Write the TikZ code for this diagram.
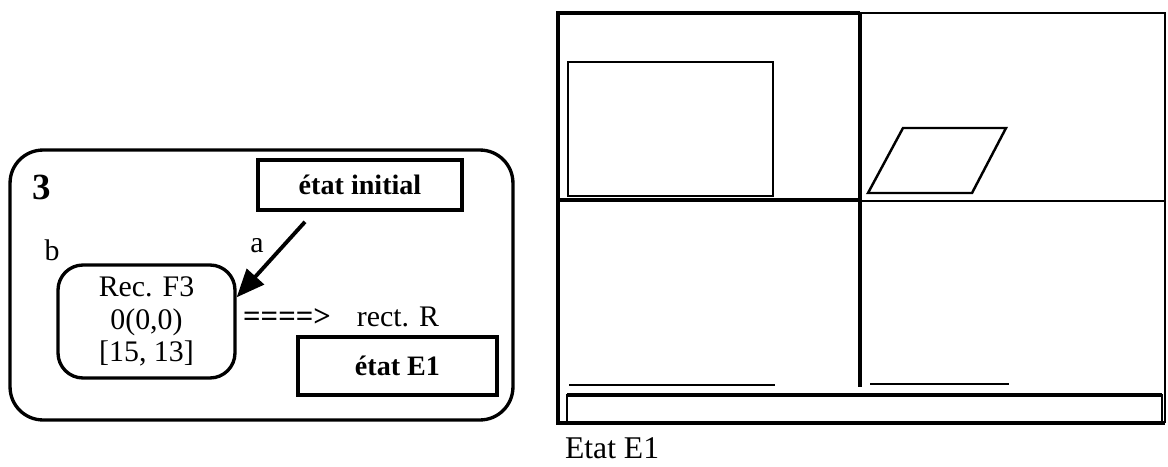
\documentclass[tikz,border=0pt]{standalone}
\usepackage{fontspec}
\setmainfont{Liberation Serif}
\usetikzlibrary{arrows.meta,calc}
\tikzstyle{panel} = [rectangle, rounded corners=0.66cm, minimum width=10.06cm, minimum height=5.4cm, draw=black, line width=1.9pt]
\tikzstyle{etat} = [rectangle, minimum height=1cm, text centered, draw=black, line width=2.1pt, font=\fontsize{16}{19}\selectfont\bfseries]
\tikzstyle{recbox} = [rectangle, rounded corners=0.5cm, minimum width=3.54cm, minimum height=2.26cm, align=center, draw=black, line width=1.9pt, font=\fontsize{17}{18.5}\selectfont]
\tikzstyle{lbl} = [inner sep=1pt, font=\fontsize{17}{20}\selectfont]
\tikzstyle{arrow} = [line width=2.2pt,-{Triangle[length=16pt,width=13pt]}]
\tikzstyle{heavy} = [line width=2.4pt]
\tikzstyle{light} = [line width=1.4pt]
\begin{document}
\begin{tikzpicture}[x=0.02cm, y=-0.02cm]
      \useasboundingbox (0,0) rectangle (1168,466);
      % left: the graph of states
      \node (frame3)[panel] at (261.5,285) {};
      \node (num)[lbl, font=\fontsize{21}{24}\selectfont\bfseries] at (42,187) {3};
      \node (b)[lbl] at (52,250) {b};
      \node (a)[lbl] at (257,246) {a};
      \node (init)[etat, minimum width=4.08cm] at (360,185) {état initial};
      \node (rec)[recbox] at (146.5,321.5) {Rec. F3\\0(0,0)\\{[15, 13]}};
      \node (impl)[lbl, font=\fontsize{17.5}{20}\selectfont\bfseries] at (287,318) {====>};
      \node (rectR)[lbl] at (398,317) {rect. R};
      \node (e1)[etat, minimum width=3.98cm, minimum height=1.16cm] at (397.5,366) {état E1};
      \draw [arrow] ($(init.south)+(-55,10)$) -- (rec.15);
      % right: the screen in state E1
      \draw [heavy] (860,13) -- (558,13) -- (558,423) -- (1165,423);
      \draw [light] (860,13) -- (1165,13) -- (1165,423);
      \draw [heavy] (558,200) -- (860,200);
      \draw [light] (860,201) -- (1165,201);
      \draw [heavy] (860,13) -- (860,200);
      \draw [light, line width=1.8pt] (860,200) -- (860,387);
      \draw [light] (568,62) rectangle (773,196);
      \draw [light] (868,193) -- (903,128) -- (1006,128) -- (972,193) -- cycle;
      \draw [line width=1pt] (569,385) -- (775,385);
      \draw [line width=1pt] (870,384) -- (1009,384);
      \draw [light] (567,395) rectangle (1162,422);
      \draw [heavy] (567,395) -- (1162,395);
      \node (etatE1)[lbl, anchor=west, font=\fontsize{18}{21}\selectfont] at (563,448) {Etat E1};
\end{tikzpicture}
\end{document}
